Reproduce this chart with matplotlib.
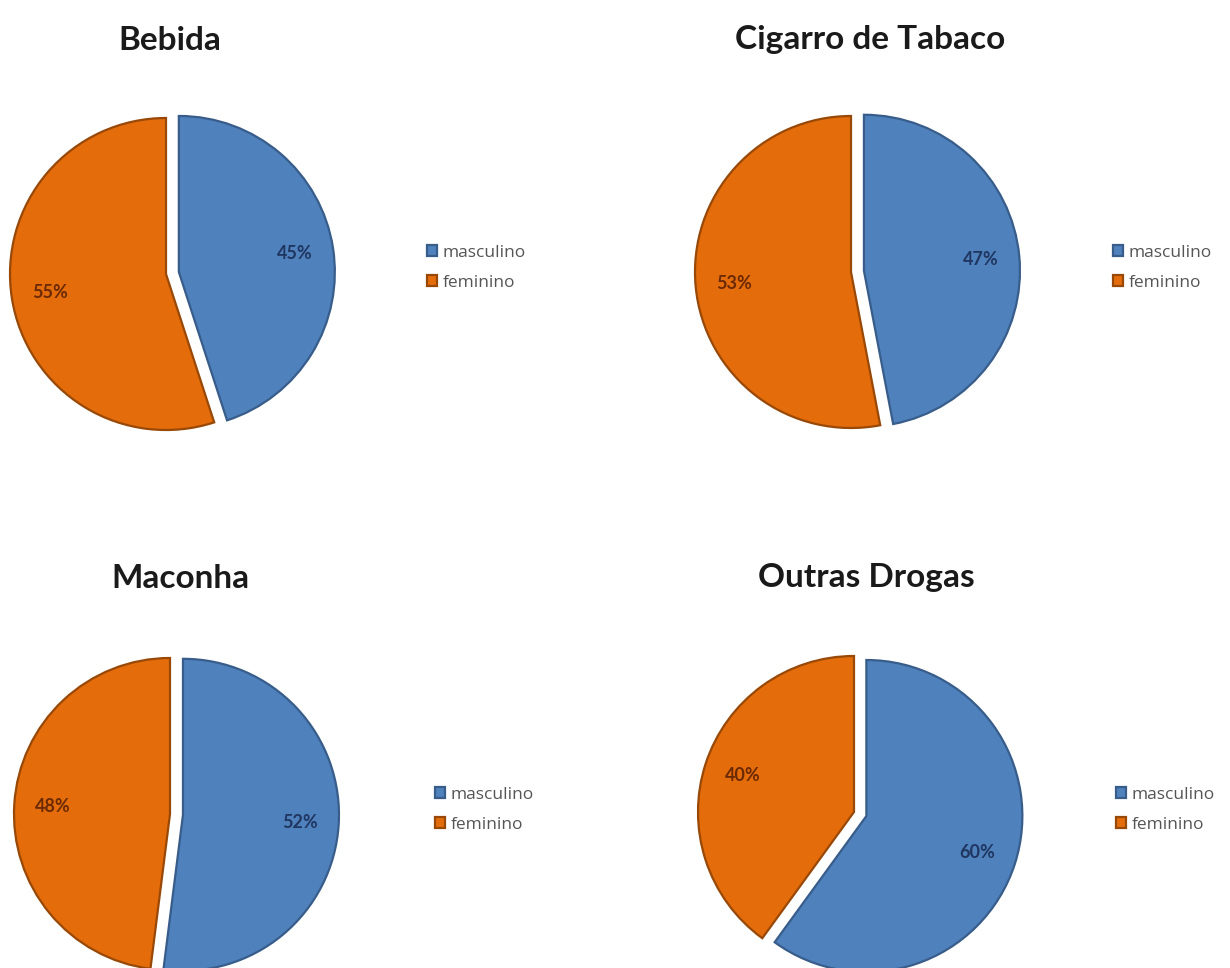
#!/usr/bin/env python3
''' Quatro pizzas: consumo por sexo. '''
import matplotlib.pyplot as plt

titles = ['Bebida', 'Cigarro de Tabaco', 'Maconha', 'Outras Drogas']
labels = ['masculino', 'feminino']
masculino = [45, 47, 52, 60]
feminino = [55, 53, 48, 40]

W, H = 1230, 968
fill = ['#4f81bd', '#e46c0a']
edge = ['#385d8a', '#984807']
pct_color = ['#1f3660', '#6b2a05']

# Layout in pixels (x, y from top).
centers = [(166, 274), (851, 272), (170, 814), (854, 812)]
title_pos = [(170, 40), (870, 40), (180, 578), (866, 578)]
legend_pos = [(427, 268), (1113, 268), (435, 810), (1116, 810)]
radius = 156
explode_px = 13


def main():
  plt.rcParams['font.family'] = ['Lato', 'DejaVu Sans']
  fig = plt.figure(figsize=(W / 100, H / 100), dpi=100)
  ax = fig.add_axes([0, 0, 1, 1])

  for i, title in enumerate(titles):
    cx, cy = centers[i]
    wedges, _, pcts = ax.pie(
      [masculino[i], feminino[i]], colors=fill, startangle=90, counterclock=False,
      explode=[explode_px, 0], center=(cx, H - cy), radius=radius,
      autopct=lambda p: '%.0f%%' % p, pctdistance=0.75,
      wedgeprops=dict(linewidth=1.6),
      textprops=dict(fontsize=13, fontweight='bold'),
    )
    for j, w in enumerate(wedges):
      w.set_edgecolor(edge[j])
      pcts[j].set_color(pct_color[j])
    tx, ty = title_pos[i]
    ax.text(tx, H - ty, title, ha='center', va='center', fontsize=24, fontweight='bold', color='#1a1a1a')
    lx, ly = legend_pos[i]
    fig.legend(wedges, labels, loc='center left', bbox_to_anchor=(lx / W, 1 - ly / H),
      frameon=False, handlelength=0.6, handleheight=0.6, handletextpad=0.3,
      labelspacing=0.8, borderaxespad=0, borderpad=0,
      prop=dict(family=['Open Sans', 'DejaVu Sans'], size=12.5), labelcolor='#555555')

  ax.set_xlim(0, W)
  ax.set_ylim(0, H)
  ax.set_aspect('equal')
  ax.axis('off')
  fig.savefig('out.png', dpi=100, facecolor='white')


if __name__ == '__main__':
  main()
